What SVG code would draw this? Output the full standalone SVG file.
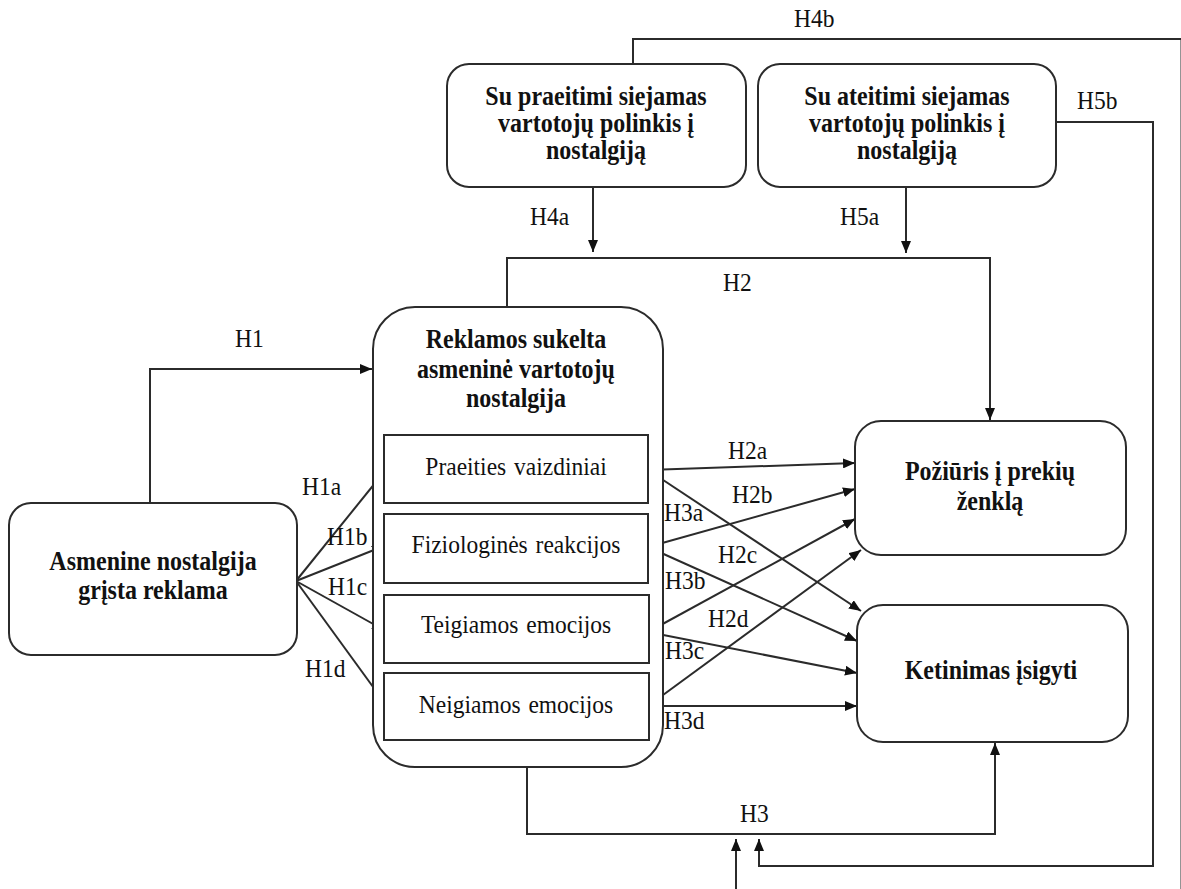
<svg xmlns="http://www.w3.org/2000/svg" width="1181" height="889" viewBox="0 0 1181 889">
  <style>
    .box { fill: #ffffff; stroke: #2b2b2b; stroke-width: 2; }
    .wire { fill: none; stroke: #2b2b2b; stroke-width: 2; }
    /* all lettering is set 10% taller than wide; y positions below are given in the stretched space */
    .bold, .plain, .lbl { transform: scale(1, 1.1); }
    .bold { font-family: "Liberation Serif", "Times New Roman", serif; font-size: 24px; font-weight: bold; fill: #111; text-anchor: middle; }
    .plain { font-family: "Liberation Serif", "Times New Roman", serif; font-size: 23.5px; fill: #111; text-anchor: middle; word-spacing: 2px; }
    .lbl { font-family: "Liberation Serif", "Times New Roman", serif; font-size: 23.5px; fill: #111; }
  </style>
  <defs>
    <marker id="arrow" viewBox="0 0 12 10" refX="12" refY="5" markerWidth="12" markerHeight="10" markerUnits="userSpaceOnUse" orient="auto">
      <path d="M0,0 L12,5 L0,10 z" fill="#111"/>
    </marker>
  </defs>

  <rect width="1181" height="889" fill="#ffffff"/>

  <!-- connectors -->
  <g id="connectors" class="wire">
    <path d="M150,503 V369 H372" marker-end="url(#arrow)"/>
    <path d="M296,581 L384,472" marker-end="url(#arrow)"/>
    <path d="M296,581 L384,546" marker-end="url(#arrow)"/>
    <path d="M296,581 L384,630" marker-end="url(#arrow)"/>
    <path d="M296,581 L384,702" marker-end="url(#arrow)"/>
    <path d="M507,307 V258 H990 V420" marker-end="url(#arrow)"/>
    <path d="M593,187 V252" marker-end="url(#arrow)"/>
    <path d="M906,187 V253" marker-end="url(#arrow)"/>
    <path d="M633,64 V39 H1181.5 V900 H736 V839" marker-end="url(#arrow)"/>
    <path d="M1056,122 H1153 V866 H759 V839" marker-end="url(#arrow)"/>
    <path d="M527,767 V834 H995 V743" marker-end="url(#arrow)"/>
    <path d="M648,470 L855,463" marker-end="url(#arrow)"/>
    <path d="M648,470 L861,611" marker-end="url(#arrow)"/>
    <path d="M648,547 L855,489" marker-end="url(#arrow)"/>
    <path d="M648,547 L857,641" marker-end="url(#arrow)"/>
    <path d="M648,632 L855,519" marker-end="url(#arrow)"/>
    <path d="M648,632 L857,673" marker-end="url(#arrow)"/>
    <path d="M648,706 L861,550" marker-end="url(#arrow)"/>
    <path d="M648,706 L857,706" marker-end="url(#arrow)"/>
  </g>

  <!-- connector labels -->
  <g id="labels">
    <text class="lbl" x="235" y="315.5">H1</text>
    <text class="lbl" x="302" y="450">H1a</text>
    <text class="lbl" x="327" y="495.5">H1b</text>
    <text class="lbl" x="328" y="540.9">H1c</text>
    <text class="lbl" x="305" y="615.5">H1d</text>
    <text class="lbl" x="723" y="264.5">H2</text>
    <text class="lbl" x="530" y="204.5">H4a</text>
    <text class="lbl" x="840" y="204.5">H5a</text>
    <text class="lbl" x="794" y="24.5">H4b</text>
    <text class="lbl" x="1077" y="99.1">H5b</text>
    <text class="lbl" x="728" y="417.3">H2a</text>
    <text class="lbl" x="732" y="457.3">H2b</text>
    <text class="lbl" x="718" y="511.8">H2c</text>
    <text class="lbl" x="708" y="570">H2d</text>
    <text class="lbl" x="664" y="473.6">H3a</text>
    <text class="lbl" x="665" y="535.5">H3b</text>
    <text class="lbl" x="665" y="599.1">H3c</text>
    <text class="lbl" x="664" y="662.7">H3d</text>
    <text class="lbl" x="740" y="747.3">H3</text>
  </g>

  <!-- source: personal-nostalgia advertising -->
  <g id="node-ad">
    <rect class="box" x="9" y="503" width="288" height="152" rx="22"/>
    <text class="bold" x="153" y="518.2">Asmenine nostalgija</text>
    <text class="bold" x="153" y="544.5">grįsta reklama</text>
  </g>

  <!-- past-oriented proneness -->
  <g id="node-past">
    <rect class="box" x="447" y="64" width="299" height="123" rx="22"/>
    <text class="bold" x="596" y="95.5">Su praeitimi siejamas</text>
    <text class="bold" x="596" y="120">vartotojų polinkis į</text>
    <text class="bold" x="596" y="144.5">nostalgiją</text>
  </g>

  <!-- future-oriented proneness -->
  <g id="node-future">
    <rect class="box" x="758" y="64" width="298" height="123" rx="22"/>
    <text class="bold" x="907" y="95.5">Su ateitimi siejamas</text>
    <text class="bold" x="907" y="120">vartotojų polinkis į</text>
    <text class="bold" x="907" y="144.5">nostalgiją</text>
  </g>

  <!-- evoked personal nostalgia with its four dimensions -->
  <g id="node-evoked">
    <rect class="box" x="373" y="307" width="290" height="460" rx="42"/>
    <text class="bold" x="516" y="316.4">Reklamos sukelta</text>
    <text class="bold" x="516" y="343.6">asmeninė vartotojų</text>
    <text class="bold" x="516" y="370">nostalgija</text>
  </g>
  <g id="node-images">
    <rect class="box" x="384" y="435" width="264" height="68"/>
    <text class="plain" x="516" y="431.8">Praeities vaizdiniai</text>
  </g>
  <g id="node-physio">
    <rect class="box" x="384" y="514" width="264" height="69"/>
    <text class="plain" x="516" y="502.7">Fiziologinės reakcijos</text>
  </g>
  <g id="node-positive">
    <rect class="box" x="384" y="595" width="265" height="68"/>
    <text class="plain" x="516" y="575.5">Teigiamos emocijos</text>
  </g>
  <g id="node-negative">
    <rect class="box" x="384" y="673" width="265" height="67"/>
    <text class="plain" x="516" y="648.2">Neigiamos emocijos</text>
  </g>

  <!-- outcomes -->
  <g id="node-attitude">
    <rect class="box" x="855" y="421" width="271" height="134" rx="26"/>
    <text class="bold" x="990" y="436.4">Požiūris į prekių</text>
    <text class="bold" x="990" y="463.6">ženklą</text>
  </g>
  <g id="node-intent">
    <rect class="box" x="857" y="605" width="271" height="137" rx="26"/>
    <text class="bold" x="991" y="617.3">Ketinimas įsigyti</text>
  </g>
</svg>
